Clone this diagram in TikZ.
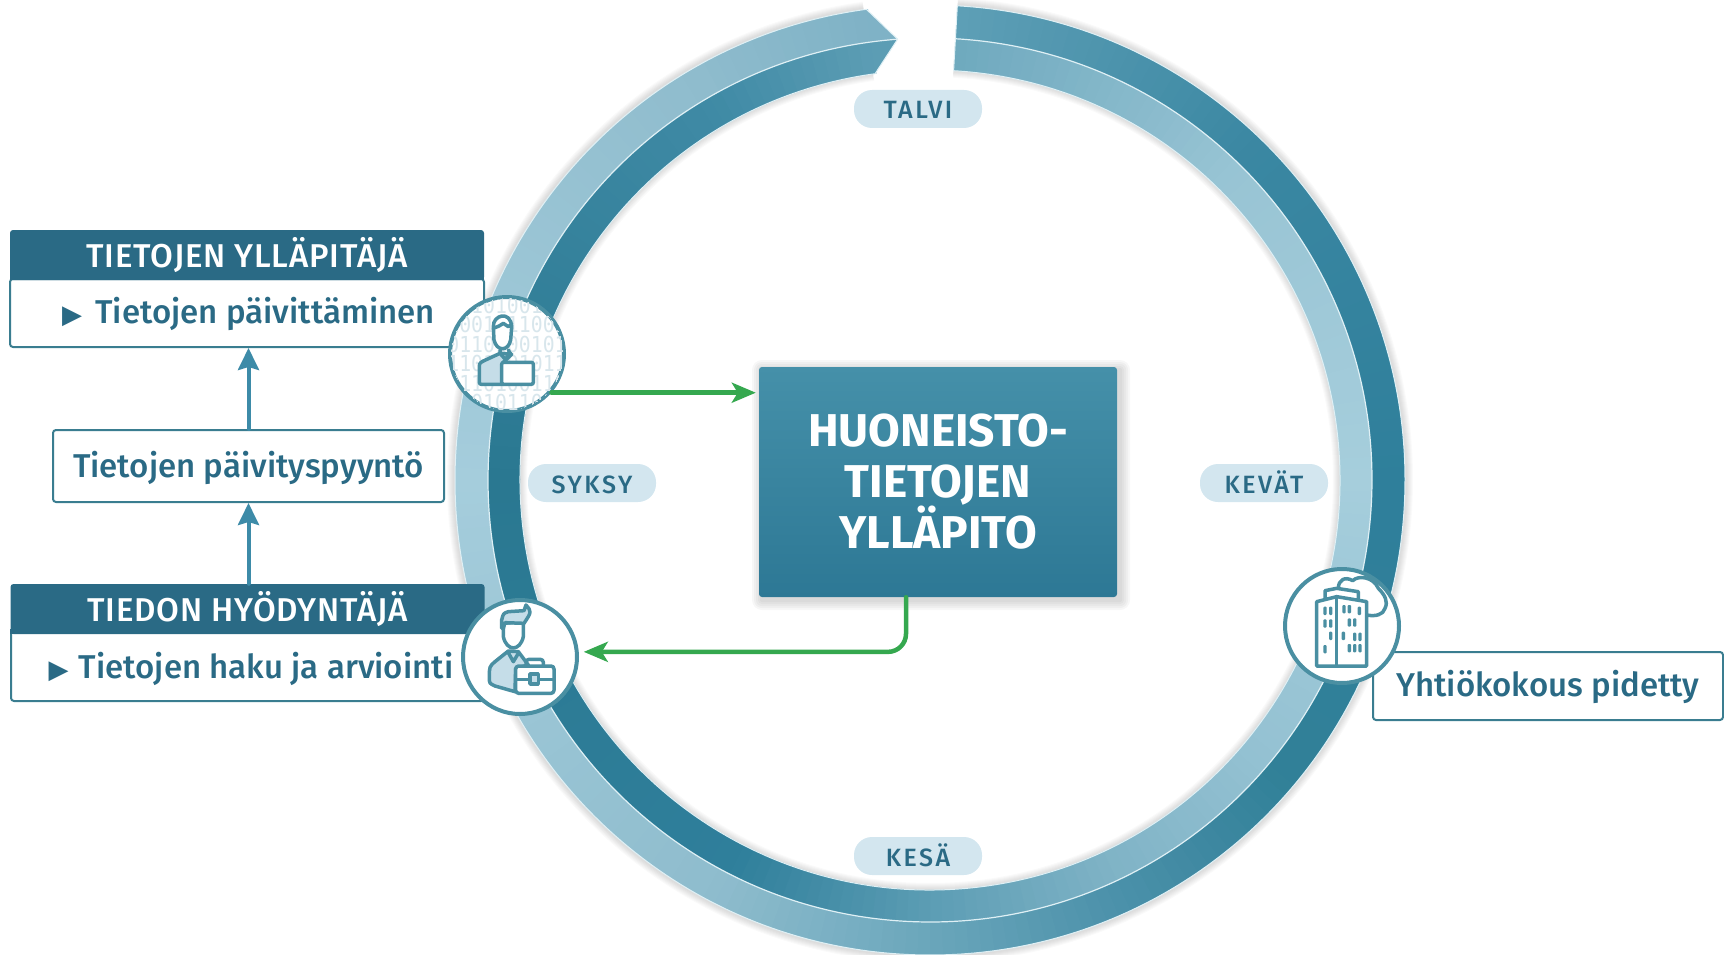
\documentclass[tikz,border=0pt]{standalone}
\usepackage{fontspec}
\usetikzlibrary{arrows.meta,positioning}
\setmainfont{Fira Sans}
\newfontfamily\medfont{Fira Sans Medium}
\newfontfamily\headfont[LetterSpace=2.5]{Fira Sans Medium}
\newfontfamily\mainfont{Fira Sans Bold}
\newfontfamily\seasonfont[LetterSpace=10]{Fira Sans Medium}
\newfontfamily\binfont[FakeStretch=0.9]{DejaVu Sans Mono}
\newfontfamily\symfont{DejaVu Sans}
\definecolor{ttext}{HTML}{2A6A85}
\definecolor{tline}{HTML}{3A7D90}
\definecolor{ticon}{HTML}{4A8FA2}
\definecolor{tarrow}{HTML}{3D8BA8}
\definecolor{tgreen}{HTML}{35A84F}
\definecolor{tpill}{HTML}{D3E6EF}
\definecolor{tfill}{HTML}{C5DDE8}
\definecolor{tbin}{HTML}{D8E6EC}
\definecolor{tedge}{HTML}{DFF0F5}
\definecolor{tmaintop}{HTML}{4590A9}
\definecolor{tmainbot}{HTML}{2D7895}
\definecolor{oa}{HTML}{5E9FB6}\definecolor{ob}{HTML}{3A87A2}\definecolor{oc}{HTML}{2F7F9B}
\definecolor{od}{HTML}{318098}\definecolor{oe}{HTML}{4A90A9}\definecolor{of}{HTML}{6AA6BB}
\definecolor{og}{HTML}{8EBCCD}\definecolor{oh}{HTML}{A5CDDC}\definecolor{oi}{HTML}{8FBCCD}
\definecolor{oj}{HTML}{7FB2C6}
\definecolor{ia}{HTML}{6EA9BE}\definecolor{ib}{HTML}{98C4D4}\definecolor{ic}{HTML}{A6CEDC}
\definecolor{id}{HTML}{94C1D2}\definecolor{ie}{HTML}{7FB3C6}\definecolor{if}{HTML}{5C9DB4}
\definecolor{ig}{HTML}{2F7F9B}\definecolor{ih}{HTML}{2A7891}\definecolor{ii}{HTML}{3F8AA5}
\definecolor{ij}{HTML}{5C9DB4}
\tikzset{
  headbox/.style={fill=ttext,text=white,font=\headfont\fontsize{33}{33}\selectfont,rounded corners=3,minimum width=474,minimum height=50,inner sep=0,text height=25,text depth=0},
  textbox/.style={draw=tline,line width=2,fill=white,text=ttext,font=\medfont\fontsize{33}{33}\selectfont,rounded corners=3,inner sep=0,text height=25,text depth=4},
  season/.style={fill=tpill,text=ttext,font=\seasonfont\fontsize{25}{25}\selectfont,rounded corners=18,minimum width=128,minimum height=38,inner sep=0,text height=20,text depth=0},
  iconcircle/.style={circle,draw=ticon,line width=4,fill=white,minimum size=114,inner sep=0},
  icon/.style={draw=ticon,line width=3.5},
  upflow/.style={->,draw=tarrow,line width=4,>={Stealth[length=22pt,width=21pt,inset=3pt]}},
  flow/.style={->,draw=tgreen,line width=4.5,>={Stealth[length=24pt,width=20pt,inset=6pt]}}
}
\begin{document}
\begin{tikzpicture}[line cap=round,line join=round,x=1pt,y=-1pt]
\useasboundingbox (0,0) rectangle (1724,955);
\begin{scope}[shift={(930,480)}]
\foreach \s in {2,4,...,14}
  \draw[black,opacity=.018,line width=66+\s,line cap=butt] (-86.7:443) arc[start angle=-86.7,end angle=262,radius=443];
\foreach \ta/\tb/\oa/\ob/\ia/\ib in {3.3/45/oa/ob/ia/ib,45/90/ob/oc/ib/ic,90/130/oc/od/ic/id,130/155/od/oe/id/ie,155/180/oe/of/ie/if,180/207/of/og/if/ig,207/270/og/oh/ig/ih,270/330/oh/oi/ih/ii,330/352.3/oi/oj/ii/ij}{
  \pgfmathtruncatemacro\n{(\tb-\ta)/1.5}
  \foreach \k in {1,...,\n}{
    \pgfmathsetmacro\u{\ta+(\k-1)*(\tb-\ta)/\n-90}
    \pgfmathsetmacro\v{\u+(\tb-\ta)/\n+.2}
    \pgfmathsetmacro\p{100*(\k-.5)/\n}
    \fill[\ob!\p!\oa] (\u:442) -- (\v:442) -- (\v:475) -- (\u:475) -- cycle;
    \fill[\ib!\p!\ia] (\u:410) -- (\v:410) -- (\v:442) -- (\u:442) -- cycle;
  }
}
\fill[oj] (262.3:475) -- (265.8:442) -- (262.3:442) -- cycle;
\fill[ij] (262.3:410) -- (265.8:442) -- (262.3:442) -- cycle;
\draw[tedge,line width=1.2] (-86.7:442) arc[start angle=-86.7,end angle=265.8,radius=442];
\draw[tedge,line width=1] (-86.7:475) arc[start angle=-86.7,end angle=262.3,radius=475] -- (265.8:442) -- (262.3:410) arc[start angle=262.3,end angle=-86.7,radius=410] -- cycle;
\end{scope}
\foreach \s in {2,4,...,10}
  \fill[black,opacity=.03,rounded corners=\s] (762-\s,370-\s) rectangle (1120+\s,600+\s);
\node[top color=tmaintop,bottom color=tmainbot,rounded corners=3,minimum width=358,minimum height=230,inner sep=0,text=white,align=center,font=\mainfont\fontsize{46}{51}\selectfont] (ydin) at (938,482) {HUONEISTO-\\TIETOJEN\\YLLÄPITO};
\node[season] (talvi) at (918,109) {TALVI};
\node[season] (kevat) at (1264,483) {KEVÄT};
\node[season] (syksy) at (592,483) {SYKSY};
\node[season] (kesa) at (918,856) {KESÄ};
\node[textbox,minimum width=474,minimum height=68] (paivitys) at (247,313) {\hspace{3pt}{\symfont\fontsize{26}{26}\selectfont ▶}\hspace{5pt} Tietojen päivittäminen};
\node[headbox] (yllapitaja) at (247,255) {TIETOJEN YLLÄPITÄJÄ};
\fill[ttext] (yllapitaja.south west) rectangle ([yshift=5pt]yllapitaja.south east);
\node[textbox,minimum width=391,minimum height=72,text depth=3] (pyynto) at (248.5,466) {Tietojen päivityspyyntö};
\node[textbox,minimum width=473,minimum height=70,text depth=1] (haku) at (247.5,666) {\hspace{7pt}{\symfont\fontsize{26}{26}\selectfont ▶}\hspace{2pt} Tietojen haku ja arviointi};
\node[headbox] (hyodyntaja) at (247.5,609) {TIEDON HYÖDYNTÄJÄ};
\fill[ttext] (hyodyntaja.south west) rectangle ([yshift=5pt]hyodyntaja.south east);
\node[textbox,minimum width=350,minimum height=68] (kokous) at (1548,686) {Yhtiökokous pidetty};
\draw[upflow] (pyynto.north) -- (pyynto.north |- paivitys.south);
\draw[upflow] (pyynto.south |- hyodyntaja.north) -- (pyynto.south);
\node[iconcircle] (yllapito) at (507,354) {};
\node[iconcircle] (hyoty) at (520,657) {};
\node[iconcircle] (talo) at (1342,626) {};
\draw[flow,shorten >=3pt] (yllapito.-41) -- (yllapito.-41 -| ydin.west);
\draw[flow,rounded corners=18] ([xshift=-32pt]ydin.south) |- ([xshift=5pt]hyoty.5);
\begin{scope}
\clip (507,354) circle (56);
\node[text=tbin,font=\binfont\fontsize{22}{19.5}\selectfont,inner sep=0,align=center] (binaari) at (507,354) {0110100101\\1001011001\\0110100101\\1101001011\\0110100110\\1001011010};
\end{scope}
\begin{scope}[shift={(440,285)},scale=1/3]
\draw[icon,fill=tfill] (180,205) -- (130,228) .. controls (118,235) .. (118,250) -- (118,285) .. controls (118,298) .. (130,298) -- (190,298) -- (190,232) -- (215,208) -- cycle;
\draw[icon,fill=white] (160,125) .. controls (158,90) and (212,75) .. (215,125) -- (212,165) .. controls (205,200) and (170,200) .. (162,165) -- cycle;
\draw[icon] (160,130) .. controls (180,122) .. (190,115) -- (205,125) -- (215,118);
\draw[icon] (180,205) -- (180,195) (205,195) -- (212,208) (180,205) -- (195,222) -- (212,205);
\draw[icon,fill=white,rounded corners=2] (185,232) rectangle (280,298);
\end{scope}
\begin{scope}[shift={(450,590)},scale=1/3]
\draw[icon,fill=tfill] (175,183) -- (135,215) .. controls (118,230) .. (118,262) .. controls (118,280) .. (135,288) -- (195,305) -- (197,235) -- (235,225) -- (205,185) -- cycle;
\draw[icon,fill=white] (160,100) -- (160,140) .. controls (170,185) and (210,185) .. (220,140) -- (220,95) -- cycle;
\draw[icon,fill=tfill] (155,115) -- (155,90) .. controls (160,70) .. (175,65) -- (222,62) -- (228,45) .. controls (245,65) .. (222,100) -- (165,98) -- (160,115) -- cycle;
\draw[icon] (175,188) -- (190,215) -- (205,190);
\draw[icon,rounded corners=3] (228,228) -- (228,208) -- (280,208) -- (280,228);
\draw[icon,fill=white,rounded corners=3] (197,228) rectangle (312,310);
\draw[icon] (197,268) -- (240,268) (265,268) -- (312,268);
\draw[icon,fill=tfill] (240,252) rectangle (265,282);
\end{scope}
\begin{scope}[shift={(1270,560)},scale=1/3]
\draw[icon,fill=white] (205,85) .. controls (205,60) and (225,48) .. (248,62) .. controls (265,45) and (310,50) .. (325,85) .. controls (345,105) and (355,125) .. (345,145) .. controls (340,165) and (315,170) .. (290,165);
\draw[icon,fill=white] (165,118) -- (165,92) -- (200,85) -- (265,95) -- (265,120);
\draw[icon,fill=white] (140,318) -- (140,125) -- (200,110) -- (290,125) -- (290,318) -- cycle;
\draw[icon] (200,110) -- (200,318);
\foreach \x/\y in {165/140,182/140,165/178,182/178,182/215,165/255,222/135,238/135,268/140,238/175,254/175,220/215,254/218,270/218,238/252,254/252,270/252}
  \fill[ticon,rounded corners=1] (\x-5,\y) rectangle (\x+5,\y+25);
\end{scope}
\end{tikzpicture}
\end{document}
